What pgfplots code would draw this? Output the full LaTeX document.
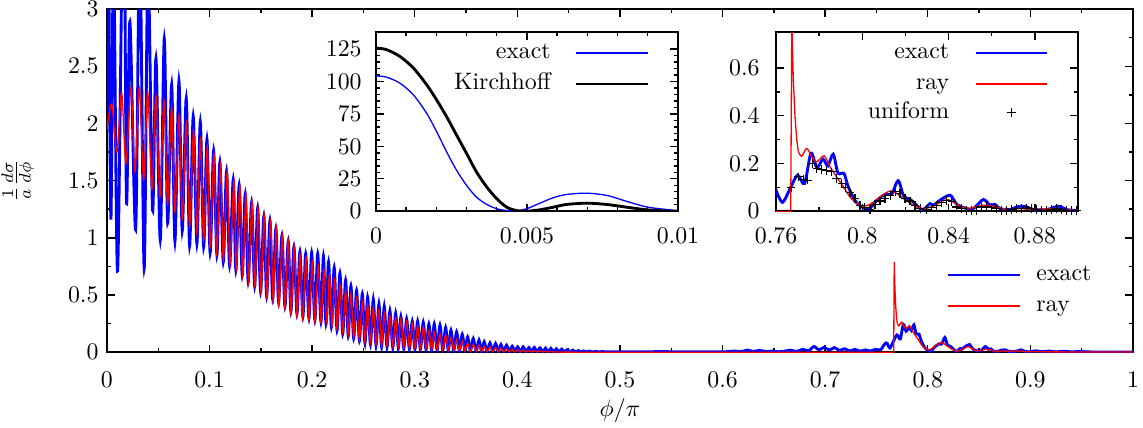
\documentclass[border=0pt]{standalone}
\usepackage{pgfplots}
\pgfplotsset{compat=1.18}
\definecolor{gpblue}{rgb}{0,0,1}
\definecolor{gpred}{rgb}{1,0,0}

\pgfplotsset{
  gpframe/.style={
    scale only axis,
    axis line style={line width=0.7pt},
    tick align=inside,
    major tick length=3.2pt,
    minor tick length=1.8pt,
    every tick/.style={black, line width=0.6pt},
    legend style={draw=none, fill=none, inner sep=0pt,
      nodes={inner sep=1.5pt, text height=7pt, text depth=2pt}},
  },
  thickln/.style={line width=1.2pt},
  thinln/.style={line width=0.55pt},
  % first-row line sample: a drawn segment
  legline/.style={legend image code/.code={\draw[##1] (0pt,0pt) -- (30pt,0pt);}},
  % later-row line sample: a coloured rule (colour, thickness, half thickness)
  legrule/.style n args={3}{legend image code/.code={%
    \node[anchor=base west, inner sep=0pt, outer sep=0pt] at (0pt,0pt)
      {\textcolor{#1}{\rule[-#3]{30pt}{#2}}};}},
  legmark/.style={legend image code/.code={\draw[##1] plot coordinates {(15pt,0pt)};}},
}

% exact, 0 .. 0.76 (peaks and troughs)
\pgfplotstableread{
x y
0 2.0
0.0015 3.5
0.0039 1.16
0.0065 3.5
0.0104 0.71
0.0162 4.2
0.0191 1.31
0.0224 2.89
0.0280 1.07
0.0320 3.6
0.0363 0.73
0.0400 3.4
0.0445 1.24
0.0478 2.57
0.0520 0.98
0.0559 2.74
0.0592 1.13
0.0631 2.34
0.0663 0.97
0.0702 2.37
0.0734 1.06
0.0773 2.22
0.0806 0.93
0.0841 2.06
0.0877 0.95
0.0910 2.01
0.0943 0.92
0.0975 1.86
0.1006 0.87
0.1040 1.76
0.1072 0.85
0.1101 1.66
0.1134 0.79
0.1166 1.58
0.1196 0.755
0.1231 1.51
0.1257 0.717
0.1289 1.46
0.1319 0.674
0.1348 1.38
0.1377 0.615
0.1410 1.31
0.1440 0.577
0.1469 1.26
0.1498 0.528
0.1530 1.19
0.1557 0.49
0.1589 1.15
0.1615 0.47
0.1647 1.08
0.1673 0.44
0.1706 1.02
0.1735 0.40
0.1767 0.97
0.1793 0.355
0.1823 0.92
0.1852 0.335
0.1881 0.88
0.1910 0.31
0.1937 0.86
0.1969 0.295
0.1995 0.87
0.2027 0.28
0.2054 0.86
0.2086 0.265
0.2110 0.84
0.2135 0.25
0.2160 0.79
0.2188 0.22
0.2215 0.74
0.2243 0.19
0.2271 0.69
0.2298 0.16
0.2326 0.63
0.2352 0.14
0.2378 0.58
0.2405 0.12
0.2433 0.54
0.2461 0.10
0.2489 0.51
0.2515 0.08
0.2541 0.48
0.2568 0.07
0.2596 0.46
0.2623 0.06
0.2651 0.42
0.2677 0.05
0.2703 0.40
0.2730 0.046
0.2758 0.36
0.2786 0.041
0.2814 0.34
0.2840 0.035
0.2865 0.31
0.2893 0.032
0.2921 0.29
0.2948 0.029
0.2976 0.27
0.3002 0.026
0.3028 0.27
0.3055 0.024
0.3083 0.26
0.3110 0.022
0.3138 0.245
0.3164 0.02
0.3190 0.245
0.3218 0.018
0.3246 0.236
0.3273 0.016
0.3301 0.216
0.3327 0.014
0.3353 0.192
0.3380 0.012
0.3408 0.178
0.3435 0.011
0.3463 0.157
0.3489 0.01
0.3515 0.134
0.3542 0.009
0.3570 0.12
0.3598 0.008
0.3626 0.105
0.3651 0.007
0.3677 0.09
0.3705 0.006
0.3733 0.08
0.3760 0.006
0.3788 0.076
0.3814 0.005
0.3840 0.067
0.3867 0.005
0.3895 0.061
0.3922 0.004
0.3950 0.052
0.3976 0.004
0.4002 0.047
0.4030 0.004
0.4057 0.047
0.4085 0.003
0.4113 0.041
0.4139 0.003
0.4165 0.041
0.4192 0.003
0.4220 0.038
0.4247 0.003
0.4275 0.035
0.4301 0.003
0.4327 0.033
0.4354 0.003
0.4380 0.03
0.4407 0.003
0.4433 0.027
0.4460 0.003
0.4486 0.022
0.4513 0.003
0.4540 0.018
0.4567 0.003
0.4594 0.014
0.4620 0.003
0.4647 0.011
0.4675 0.003
0.4700 0.009
0.4730 0.003
0.4760 0.007
0.4790 0.003
0.4820 0.005
0.49 0.003
0.50 0.004
0.52 0.003
0.54 0.005
0.56 0.003
0.58 0.004
0.60 0.003
0.612 0.01
0.618 0.004
0.624 0.018
0.630 0.006
0.636 0.016
0.642 0.005
0.648 0.01
0.654 0.004
0.660 0.008
0.666 0.018
0.672 0.006
0.678 0.025
0.684 0.012
0.689 0.05
0.694 0.02
0.699 0.042
0.704 0.018
0.709 0.04
0.714 0.015
0.719 0.03
0.724 0.01
0.729 0.025
0.734 0.008
0.739 0.02
0.744 0.01
0.749 0.025
0.754 0.02
0.757 0.06
0.7600 0.088
}\exacthead

% exact, 0.76 .. 1
\pgfplotstableread{
x y
0.7600 0.088
0.7630 0.037
0.7665 0.095
0.7700 0.151
0.7732 0.116
0.7762 0.243
0.7789 0.183
0.7818 0.218
0.7840 0.190
0.7865 0.239
0.7887 0.160
0.7915 0.158
0.7935 0.102
0.7970 0.040
0.8002 0.016
0.8030 0.008
0.8067 0.045
0.8108 0.072
0.8136 0.071
0.8166 0.128
0.8192 0.063
0.8221 0.050
0.8252 0.025
0.8280 0.006
0.8314 0.032
0.8329 0.025
0.8360 0.046
0.8407 0.067
0.8438 0.029
0.8484 0.011
0.8515 0.011
0.8561 0.049
0.8592 0.025
0.8615 0.029
0.8638 0.011
0.8685 0.007
0.8716 0.018
0.8754 0.021
0.8793 0.007
0.8855 0.007
0.8909 0.021
0.8947 0.007
0.8994 0.004
0.905 0.012
0.912 0.004
0.918 0.010
0.925 0.003
0.932 0.008
0.940 0.003
0.948 0.006
0.960 0.002
0.980 0.002
1.0 0.001
}\exacttail

% ray, 0 .. threshold
\pgfplotstableread{
x y
0 1.94
0.0046 2.17
0.0097 1.75
0.0143 2.27
0.0185 1.65
0.0234 2.31
0.0273 1.58
0.0315 2.31
0.0358 1.51
0.0397 2.28
0.0439 1.43
0.0478 2.24
0.0517 1.36
0.0556 2.20
0.0592 1.30
0.0631 2.14
0.0663 1.23
0.0702 2.07
0.0734 1.17
0.0773 2.01
0.0806 1.10
0.0845 1.94
0.0877 1.04
0.0910 1.86
0.0943 0.98
0.0978 1.80
0.1005 0.92
0.1043 1.73
0.1069 0.86
0.1108 1.64
0.1134 0.81
0.1173 1.58
0.1199 0.76
0.1238 1.50
0.1260 0.72
0.1296 1.45
0.1323 0.67
0.1355 1.38
0.1381 0.61
0.1413 1.32
0.1442 0.58
0.1475 1.26
0.1501 0.52
0.1533 1.20
0.1559 0.48
0.1595 1.15
0.1621 0.44
0.1650 1.09
0.1676 0.40
0.1709 1.02
0.1735 0.38
0.1767 0.98
0.1793 0.34
0.1826 0.92
0.1852 0.31
0.1881 0.86
0.1907 0.29
0.1940 0.83
0.1969 0.28
0.2001 0.79
0.2027 0.265
0.2060 0.76
0.2086 0.26
0.2115 0.72
0.2144 0.25
0.2168 0.68
0.2194 0.23
0.2220 0.64
0.2243 0.20
0.2271 0.59
0.2298 0.17
0.2326 0.54
0.2352 0.15
0.2378 0.51
0.2405 0.13
0.2433 0.47
0.2461 0.11
0.2489 0.44
0.2515 0.09
0.2541 0.42
0.2568 0.08
0.2596 0.39
0.2623 0.07
0.2651 0.37
0.2677 0.06
0.2703 0.34
0.2730 0.055
0.2758 0.32
0.2786 0.05
0.2814 0.30
0.2840 0.045
0.2865 0.29
0.2893 0.04
0.2921 0.27
0.2948 0.036
0.2976 0.25
0.3002 0.033
0.3028 0.23
0.3055 0.03
0.3083 0.22
0.3110 0.027
0.3138 0.19
0.3164 0.024
0.3190 0.18
0.3218 0.021
0.3246 0.16
0.3273 0.019
0.3301 0.15
0.3327 0.017
0.3353 0.13
0.3380 0.015
0.3408 0.11
0.3435 0.013
0.3463 0.10
0.3489 0.011
0.3515 0.08
0.3542 0.01
0.3570 0.07
0.3598 0.009
0.3626 0.06
0.3651 0.008
0.3677 0.05
0.3705 0.007
0.3733 0.046
0.3760 0.006
0.3788 0.04
0.3814 0.005
0.3840 0.035
0.3867 0.005
0.3895 0.03
0.3922 0.004
0.3950 0.025
0.3976 0.004
0.4002 0.02
0.4030 0.003
0.4057 0.018
0.4085 0.003
0.4113 0.015
0.4139 0.002
0.4165 0.012
0.4192 0.002
0.4220 0.01
0.4247 0.002
0.4275 0.008
0.4301 0.001
0.4327 0.006
0.44 0.001
0.50 0
0.7668 0
}\rayhead

% ray, spike at the threshold
\pgfplotstableread{
x y
0.7668 0
0.7673 0.79
0.7680 0.55
0.7688 0.395
0.7696 0.30
0.7703 0.250
}\rayspike

% ray, after the spike
\pgfplotstableread{
x y
0.7703 0.250
0.7719 0.230
0.7742 0.263
0.7766 0.228
0.7789 0.207
0.7823 0.232
0.7850 0.186
0.7881 0.144
0.7912 0.102
0.7943 0.060
0.7974 0.032
0.8005 0.021
0.8036 0.029
0.8082 0.060
0.8129 0.085
0.8160 0.074
0.8190 0.053
0.8237 0.025
0.8283 0.011
0.8329 0.021
0.8391 0.049
0.8438 0.029
0.8484 0.011
0.8561 0.025
0.8607 0.021
0.8670 0.007
0.8731 0.011
0.8793 0.007
0.8886 0.011
0.8994 0.004
0.95 0.002
1.0 0.001
}\raytail

% uniform approximation
\pgfplotstableread{
x y
0.7670 0.099
0.7703 0.144
0.7727 0.133
0.7745 0.130
0.7768 0.200
0.7789 0.179
0.7812 0.175
0.7835 0.169
0.7858 0.165
0.7881 0.137
0.7905 0.116
0.7923 0.099
0.7943 0.077
0.7966 0.053
0.7989 0.025
0.8009 0.015
0.8036 0.007
0.8059 0.029
0.8082 0.043
0.8105 0.053
0.8129 0.067
0.8152 0.081
0.8175 0.074
0.8198 0.053
0.8221 0.043
0.8244 0.025
0.8268 0.011
0.8299 0.007
0.8322 0.014
0.8345 0.025
0.8368 0.035
0.8391 0.046
0.8415 0.039
0.8438 0.018
0.8461 0.011
0.8484 0.004
0.8507 0.004
0.8530 0.004
0.8553 0.018
0.8577 0.021
0.8600 0.015
0.8623 0.011
0.8646 0.004
0.8670 0.004
0.8693 0.007
0.8716 0.011
0.8739 0.011
0.8762 0.014
0.8785 0.011
0.8808 0.007
0.8832 0.004
0.8855 0.004
0.8878 0.007
0.8901 0.011
0.8924 0.007
0.8947 0.004
0.8970 0.004
0.8994 0.004
}\uniform

% forward peak
\pgfplotstableread{
x exact kirch
0       104.3 125.8
0.00035 103.3 124.5
0.00079 98.7  119.3
0.00124 89.6  110.3
0.00168 75.4  97.4
0.00201 61.2  85.7
0.00234 45.7  72.8
0.00267 31.5  58.6
0.00300 19.9  44.5
0.00333 10.8  30.2
0.00367 5.2   18.6
0.00400 1.9   9.6
0.00433 0.5   3.1
0.00466 0.3   0.5
0.00499 1.9   0.0
0.00543 6.2   1.1
0.00587 10.4  3.1
0.00631 12.9  5.2
0.00698 13.9  6.2
0.00764 12.2  5.2
0.00830 7.6   3.1
0.00896 3.3   1.1
0.00963 1.3   0.1
0.01    0.5   0.0
}\forward

\begin{document}
\begin{tikzpicture}
\useasboundingbox (-44.9pt,-31.5pt) rectangle (435.1pt,147.9pt);

\begin{axis}[gpframe,
  width=430.9pt, height=144.1pt,
  xmin=0, xmax=1, ymin=0, ymax=3,
  xtick={0,0.1,0.2,0.3,0.4,0.5,0.6,0.7,0.8,0.9,1},
  ytick={0,0.5,1,1.5,2,2.5,3},
  minor x tick num=1, minor y tick num=1,
  xticklabel style={yshift=-5pt},
  xlabel={$\phi/\pi$},
  ylabel={$\frac{1}{a}\frac{d\sigma}{d\phi}$},
  every axis x label/.style={at={(axis description cs:0.5,-0.169)}, anchor=center},
  every axis y label/.style={at={(axis description cs:-0.087,0.5)}, rotate=90, anchor=center},
  legend cell align=left,
  legend style={at={(0.818,0.268)}, anchor=north west, column sep=5pt},
]
\addlegendimage{legline, draw=gpblue, thickln}
\addlegendentry{exact}
\addlegendimage{legrule={gpred}{0.55pt}{0.275pt}}
\addlegendentry{ray}
\addplot[draw=gpblue, thickln, smooth, forget plot] table {\exacthead};
\addplot[draw=gpred, thinln, smooth, forget plot] table {\rayhead};
\addplot[draw=gpblue, thickln, smooth, forget plot] table {\exacttail};
\addplot[draw=gpred, thinln, forget plot] table {\rayspike};
\addplot[draw=gpred, thinln, smooth, forget plot] table {\raytail};
\end{axis}

\begin{axis}[gpframe,
  at={(113pt,59.2pt)}, anchor=south west,
  width=126.8pt, height=75.2pt,
  xmin=0, xmax=0.01, ymin=0, ymax=138,
  xtick={0,0.005,0.01}, ytick={0,25,50,75,100,125},
  minor x tick num=4, minor y tick num=4,
  scaled x ticks=false,
  xticklabel style={/pgf/number format/fixed, /pgf/number format/precision=3, yshift=-3.4pt},
  yticklabel style={xshift=-2.5pt},
  legend plot pos=right, legend cell align=right,
  legend style={at={(0.904,0.966)}, anchor=north east, column sep=9pt},
]
\addlegendimage{legline, draw=gpblue, thinln}
\addlegendentry{exact}
\addlegendimage{legrule={black}{1.2pt}{0.6pt}}
\addlegendentry{Kirchhoff}
\addplot[draw=gpblue, thinln, smooth, forget plot] table[x=x, y=exact] {\forward};
\addplot[draw=black, thickln, smooth, forget plot] table[x=x, y=kirch] {\forward};
\end{axis}

\begin{axis}[gpframe,
  at={(281pt,59.2pt)}, anchor=south west,
  width=126.8pt, height=75.2pt,
  xmin=0.76, xmax=0.9, ymin=0, ymax=0.75,
  xtick={0.76,0.8,0.84,0.88}, ytick={0,0.2,0.4,0.6},
  minor x tick num=1, minor y tick num=1,
  scaled x ticks=false,
  xticklabel style={/pgf/number format/fixed, /pgf/number format/precision=2, yshift=-3.4pt},
  yticklabel style={xshift=-3.4pt},
  legend plot pos=right, legend cell align=right,
  legend style={at={(0.904,0.966)}, anchor=north east, column sep=9pt},
]
\addlegendimage{legline, draw=gpblue, thickln}
\addlegendentry{exact}
\addlegendimage{legrule={gpred}{0.55pt}{0.275pt}}
\addlegendentry{ray}
\addlegendimage{legmark, black, only marks, mark=+, mark size=1.8pt, line width=0.5pt}
\addlegendentry{uniform}
\addplot[draw=gpblue, thickln, smooth, forget plot] table {\exacttail};
\addplot[draw=gpred, thinln, forget plot] table {\rayspike};
\addplot[draw=gpred, thinln, smooth, forget plot] table {\raytail};
\addplot[draw=gpred, thinln, forget plot] coordinates {(0.76,0) (0.7668,0)};
\addplot[black, only marks, mark=+, mark size=1.8pt, line width=0.5pt, forget plot] table {\uniform};
\end{axis}
\end{tikzpicture}
\end{document}
